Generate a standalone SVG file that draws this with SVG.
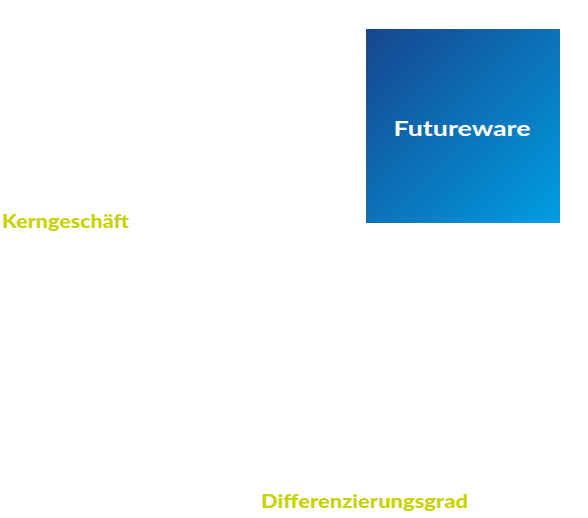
<svg xmlns="http://www.w3.org/2000/svg" width="588" height="518" viewBox="0 0 588 518">
<style>
.axis{font-family:Lato,"Open Sans","Liberation Sans",sans-serif;font-weight:900;font-size:19px;fill:#C6D300}
.title{font-family:Lato,"Open Sans","Liberation Sans",sans-serif;font-weight:700;font-size:20px;fill:#ffffff}
</style>
<defs>
<linearGradient id="g" x1="0" y1="0" x2="1" y2="1">
<stop offset="0" stop-color="#17458E"/>
<stop offset="1" stop-color="#009EE2"/>
</linearGradient>
</defs>
<rect width="588" height="518" fill="#ffffff"/>
<g id="futureware">
<rect x="366" y="29" width="194" height="194" fill="url(#g)"/>
<text class="title" x="462" y="136" text-anchor="middle" textLength="137" lengthAdjust="spacingAndGlyphs">Futureware</text>
</g>
<g id="labels">
<text class="axis" x="2" y="228" textLength="127" lengthAdjust="spacingAndGlyphs">Kerngeschäft</text>
<text class="axis" x="261" y="508" textLength="207" lengthAdjust="spacingAndGlyphs">Differenzierungsgrad</text>
</g>
<g id="connectors"></g>
</svg>
